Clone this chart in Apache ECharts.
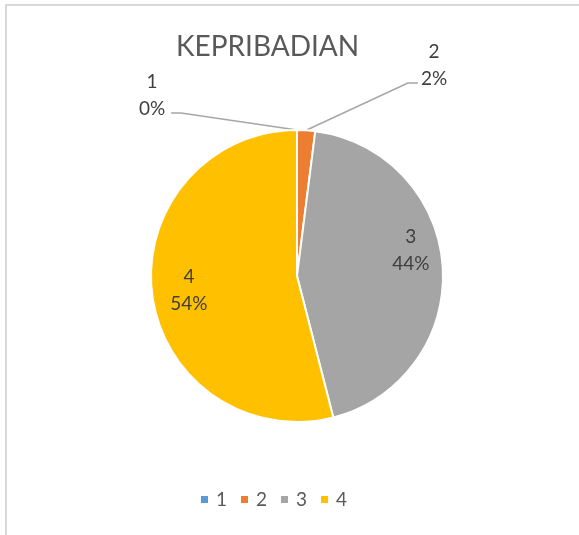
<!DOCTYPE html>
<html>
<head>
<meta charset="utf-8">
<title>KEPRIBADIAN</title>
<script src="https://cdn.jsdelivr.net/npm/echarts@6/dist/echarts.min.js"></script>
<style>
  html, body { margin: 0; padding: 0; background: #fff; }
  #chart { width: 579px; height: 535px; }
</style>
</head>
<body>
<div id="chart"></div>
<script>
// data (1: 0%, 2: 2%, 3: 44%, 4: 54%)
var categories = ['1', '2', '3', '4'];
var values = [0, 1, 22, 27];
var colors = ['#5B9BD5', '#ED7D31', '#A5A5A5', '#FFC000'];

var pieCenter = [297, 276];
var pieRadius = 146;
var fontFamily = 'Lato, "Open Sans", sans-serif';

var chart = echarts.init(document.getElementById('chart'));

var pieData = categories.map(function (name, i) {
  var outside = i < 2; // small slices get their label outside, like Excel
  return {
    name: name,
    value: values[i],
    itemStyle: { color: colors[i] },
    label: { position: outside ? 'outside' : 'inside' },
    labelLine: { show: outside }
  };
});

// move labels to where Excel puts them
function placeLabel(params) {
  var i = params.dataIndex;
  var cx = pieCenter[0], cy = pieCenter[1];
  var r = params.labelRect;
  if (i < 2) {
    var p0 = params.labelLinePoints ? params.labelLinePoints[0] : [cx, cy - pieRadius];
    var top = cy - pieRadius;
    var half = r.width / 2;
    var lx, ly, lineY, end, elbow;
    if (i === 0) {
      lx = cx - 145; ly = top - 35; lineY = top - 17;
      end = [lx + half + 6, lineY];
      elbow = [end[0] + 10, lineY];
    } else {
      lx = cx + 137; ly = top - 65; lineY = top - 47;
      end = [lx - half - 3, lineY];
      elbow = [end[0] - 10, lineY];
    }
    return {
      x: lx, y: ly, align: 'center', verticalAlign: 'middle',
      labelLinePoints: [p0, elbow, end]
    };
  }
  // inside labels: Excel sits them at ~3/4 of the radius
  var mx = r.x + r.width / 2, my = r.y + r.height / 2;
  var x = cx + (mx - cx) * 1.5;
  var y = cy + (my - cy) * 1.5;
  if (i === 2) y -= 18;
  if (i === 3) x += 5;
  return { x: x, y: y, align: 'center', verticalAlign: 'middle' };
}

chart.setOption({
  backgroundColor: '#fff',
  animation: false,
  title: {
    text: 'KEPRIBADIAN',
    left: 176,
    top: 33,
    padding: 0,
    textStyle: {
      color: '#595959',
      fontFamily: fontFamily,
      fontSize: 28,
      fontWeight: 'normal'
    }
  },
  legend: {
    data: categories,
    left: 199,
    top: 490,
    padding: 0,
    icon: 'rect',
    itemWidth: 9,
    itemHeight: 9,
    itemGap: 12,
    textStyle: {
      color: '#595959',
      fontFamily: fontFamily,
      fontSize: 19,
      padding: [0, 0, 0, 2]
    }
  },
  graphic: [{
    type: 'rect',
    shape: { x: 6, y: 5, width: 700, height: 700 },
    style: { fill: 'none', stroke: '#d9d9d9', lineWidth: 2 },
    silent: true,
    z: -1
  }],
  series: [{
    type: 'pie',
    center: pieCenter,
    radius: pieRadius,
    startAngle: 90,
    clockwise: true,
    percentPrecision: 0,
    avoidLabelOverlap: false,
    itemStyle: { borderColor: '#fff', borderWidth: 2 },
    label: {
      formatter: '{b}\n{d}%',
      color: '#404040',
      fontFamily: fontFamily,
      fontSize: 19,
      lineHeight: 27
    },
    labelLine: {
      length: 15,
      length2: 10,
      lineStyle: { color: '#a6a6a6', width: 1.5 }
    },
    labelLayout: placeLabel,
    data: pieData
  }]
});
</script>
</body>
</html>
